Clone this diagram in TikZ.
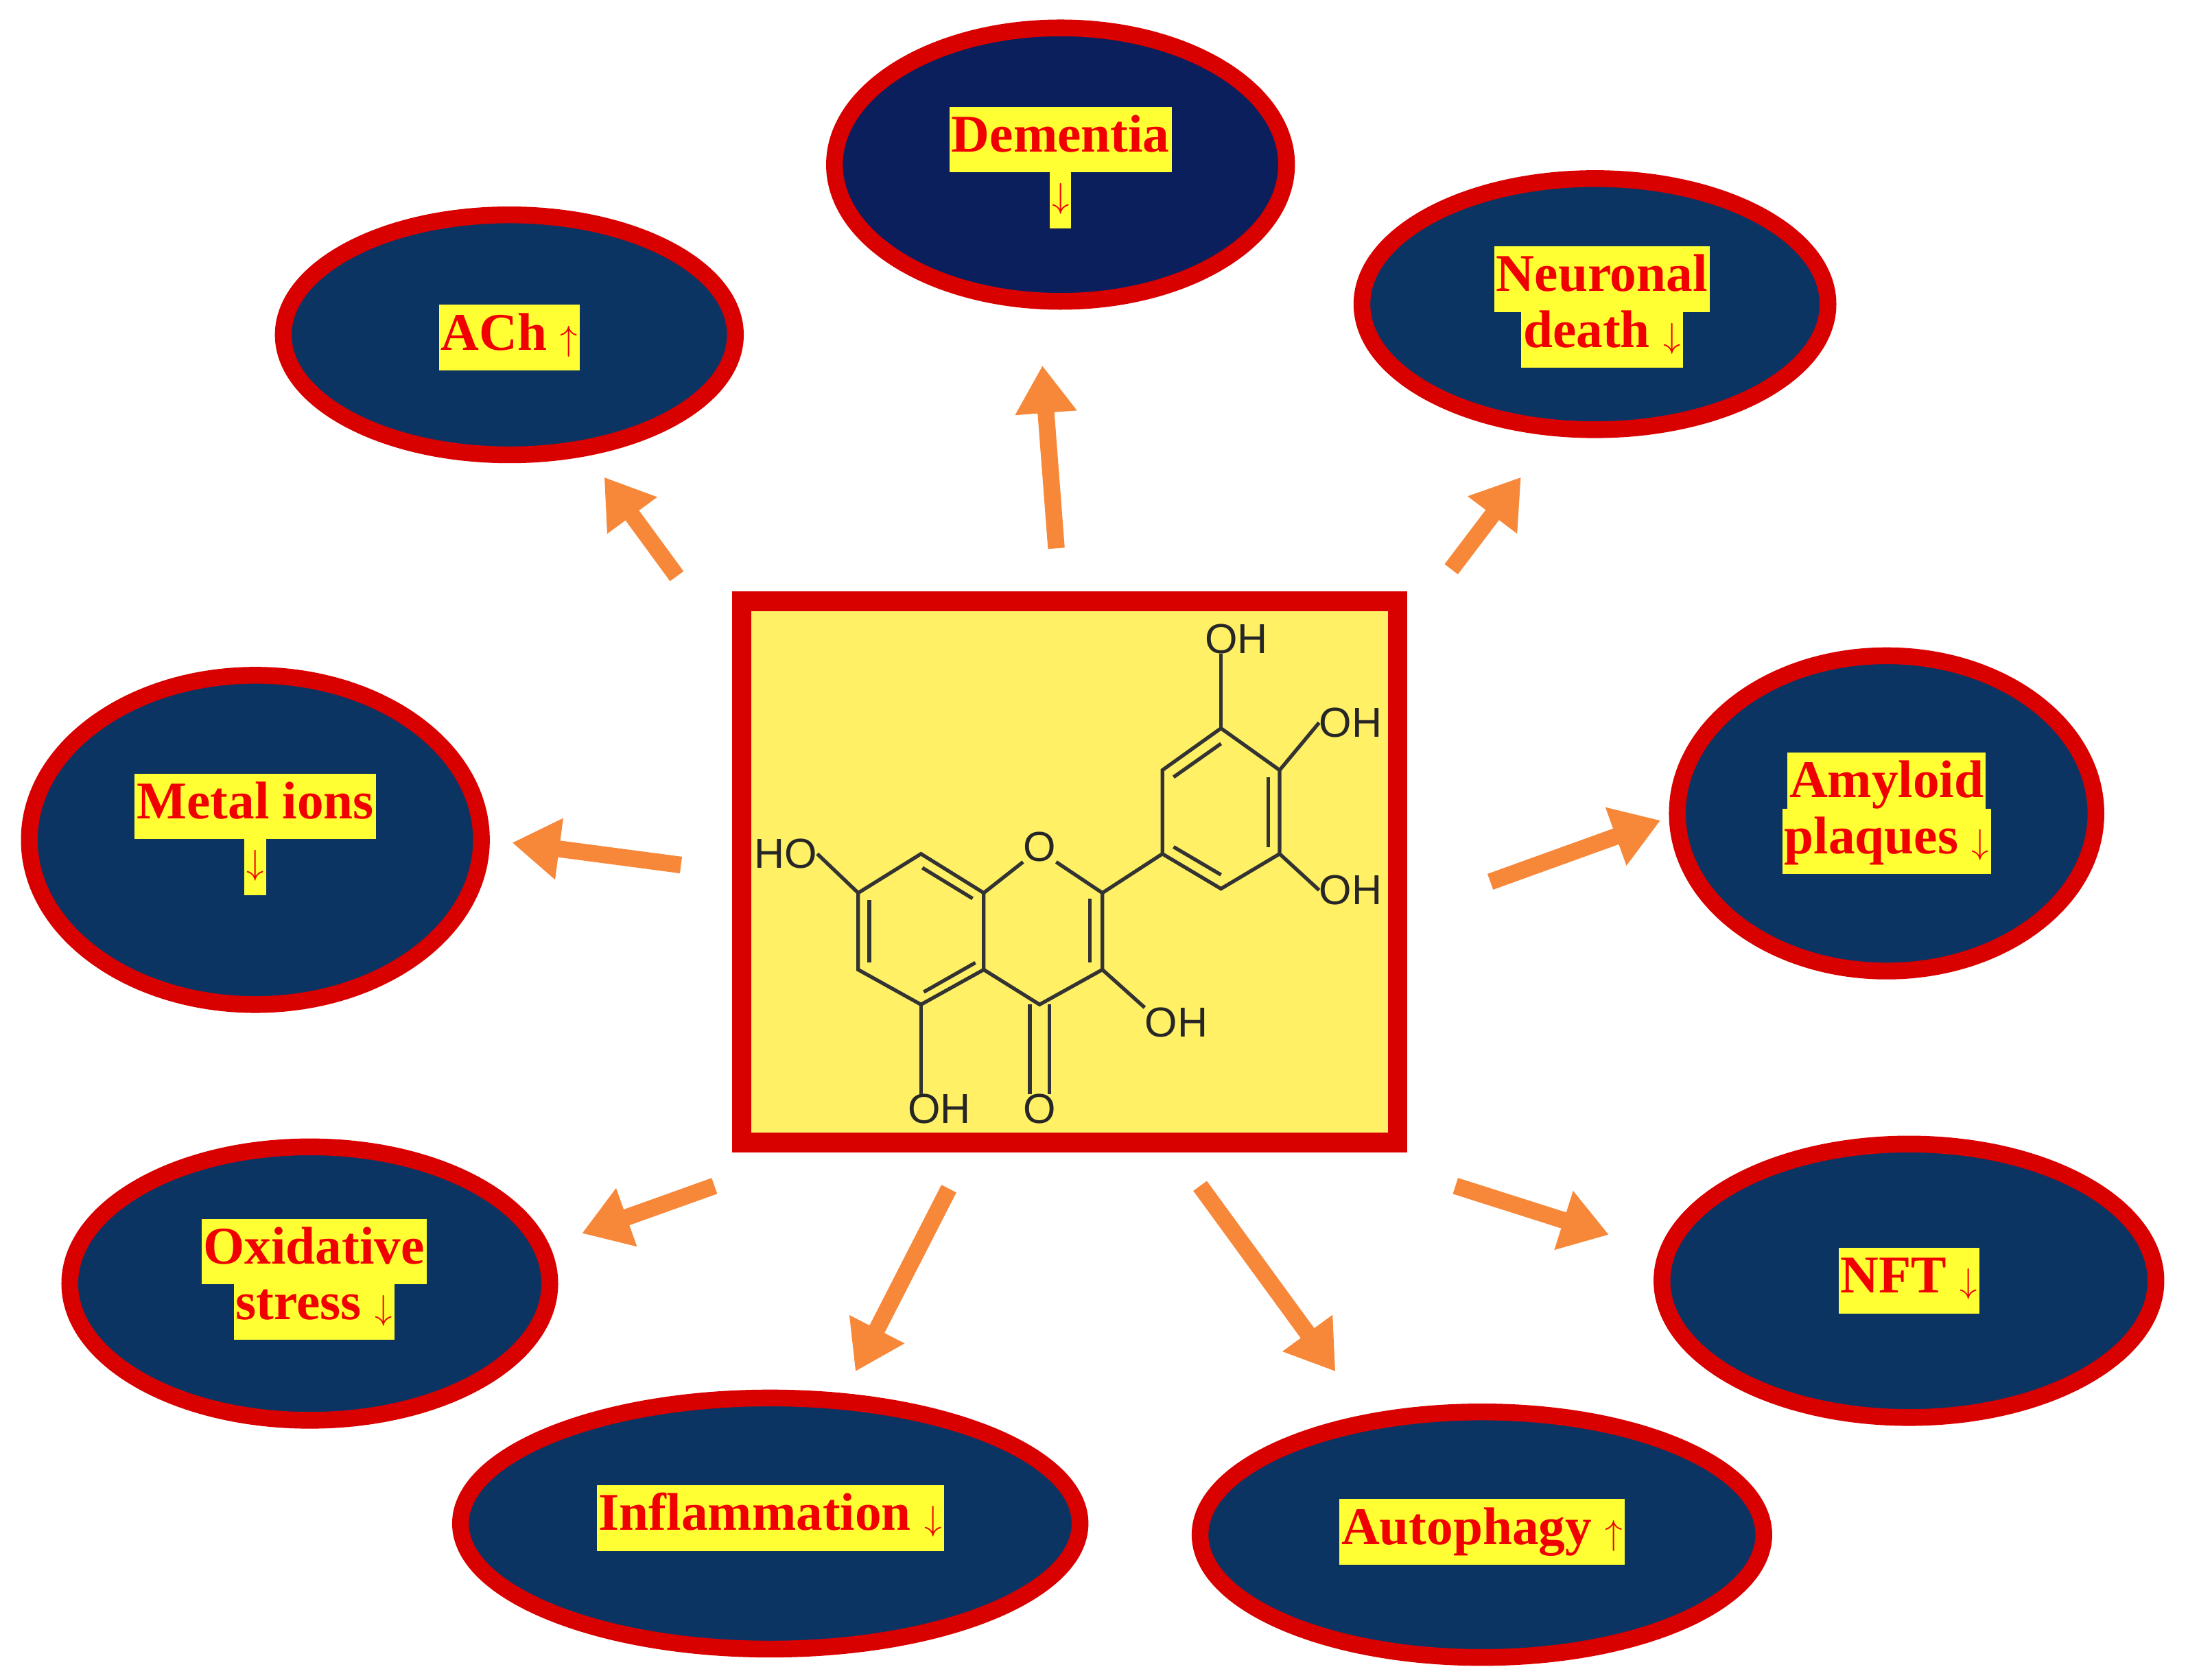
\documentclass[tikz,border=0pt]{standalone}
\usepackage{fontspec}
\setmainfont{Liberation Serif}
\setsansfont{Liberation Sans}
\usetikzlibrary{arrows.meta}
\definecolor{navy}{HTML}{0B3463}
\definecolor{navyd}{HTML}{0A1F5C}
\definecolor{rimred}{HTML}{D90000}
\definecolor{hly}{HTML}{FFFF33}
\definecolor{boxy}{HTML}{FFF066}
\definecolor{arr}{HTML}{F7883A}
\definecolor{txt}{HTML}{F00000}
\newcommand{\hlt}[1]{{\setlength{\fboxsep}{1.5pt}\colorbox{hly}{\strut #1}}}
\begin{document}
\begin{tikzpicture}[x=1pt,y=-1pt,
  lab/.style={align=center,text=txt,font=\fontsize{38}{44}\selectfont\bfseries},
  push/.style={draw=arr,line width=12pt,-{Triangle[length=34pt,width=42pt]}},
  bond/.style={draw=black!80,line width=2.6pt},
  atom/.style={font=\sffamily\fontsize{30}{32}\selectfont,text=black!85,inner sep=0pt}]
\useasboundingbox (0,0) rectangle (1568,1204);
\fill[white] (0,0) rectangle (1568,1204);
% ovals
\fill[navyd,draw=rimred,line width=12pt] (760,118) ellipse [x radius=162,y radius=98];
\fill[navy,draw=rimred,line width=12pt] (365,240) ellipse [x radius=162,y radius=86];
\fill[navy,draw=rimred,line width=12pt] (1143,218) ellipse [x radius=167,y radius=90];
\fill[navy,draw=rimred,line width=12pt] (183,602) ellipse [x radius=162,y radius=118];
\fill[navy,draw=rimred,line width=12pt] (1352,583) ellipse [x radius=150,y radius=113];
\fill[navy,draw=rimred,line width=12pt] (222,920) ellipse [x radius=172,y radius=98];
\fill[navy,draw=rimred,line width=12pt] (1368,918) ellipse [x radius=177,y radius=98];
\fill[navy,draw=rimred,line width=12pt] (552,1092) ellipse [x radius=222,y radius=90];
\fill[navy,draw=rimred,line width=12pt] (1062,1100) ellipse [x radius=202,y radius=88];
% labels
\node[lab] (tdem) at (760,120) {\hlt{Dementia}\\[-8pt]\hlt{$\downarrow$}};
\node[lab] (tach) at (365,242) {\hlt{ACh $\uparrow$}};
\node[lab] (tneu) at (1148,220) {\hlt{Neuronal}\\[-8pt]\hlt{death $\downarrow$}};
\node[lab] (tmet) at (183,598) {\hlt{Metal ions}\\[-8pt]\hlt{$\downarrow$}};
\node[lab] (tamy) at (1352,583) {\hlt{Amyloid}\\[-8pt]\hlt{plaques $\downarrow$}};
\node[lab] (toxi) at (225,917) {\hlt{Oxidative}\\[-8pt]\hlt{stress $\downarrow$}};
\node[lab] (tnft) at (1368,918) {\hlt{NFT $\downarrow$}};
\node[lab] (tinf) at (552,1088) {\hlt{Inflammation $\downarrow$}};
\node[lab] (taut) at (1062,1098) {\hlt{Autophagy $\uparrow$}};
% centre box
\node[draw=rimred,fill=boxy,line width=14pt,minimum width=470pt,minimum height=388pt] (box) at (766.5,625) {};
% arrows
\coordinate (a1) at (757,393); \coordinate (b1) at (747,262);
\coordinate (a2) at (485,413); \coordinate (b2) at (433,342);
\coordinate (a3) at (1040,408); \coordinate (b3) at (1090,342);
\coordinate (a4) at (488,620); \coordinate (b4) at (367,604);
\coordinate (a5) at (1068,632); \coordinate (b5) at (1190,588);
\coordinate (a6) at (512,850); \coordinate (b6) at (417,884);
\coordinate (a7) at (680,852); \coordinate (b7) at (613,983);
\coordinate (a8) at (860,850); \coordinate (b8) at (957,983);
\coordinate (a9) at (1043,850); \coordinate (b9) at (1153,885);
\foreach \i in {1,...,9} \draw[push] (a\i) -- (b\i);
% molecule
\coordinate (A1) at (660,612); \coordinate (A2) at (705,640); \coordinate (A3) at (705,695);
\coordinate (A4) at (660,720); \coordinate (A5) at (615,695); \coordinate (A6) at (615,640);
\coordinate (C2) at (790,640); \coordinate (C3) at (790,695); \coordinate (C4) at (745,720);
\coordinate (B1) at (833,612); \coordinate (B2) at (833,552); \coordinate (B3) at (875,522);
\coordinate (B4) at (917,552); \coordinate (B5) at (917,612); \coordinate (B6) at (875,637);
\node[atom] (O1) at (745,607) {O};
\node[atom] (O4) at (745,795) {O};
\node[atom] (OH5) at (673,795) {OH};
\node[atom] (OH3) at (843,733) {OH};
\node[atom] (OH7) at (563,612) {HO};
\node[atom] (OHa) at (886,458) {OH};
\node[atom] (OHb) at (968,518) {OH};
\node[atom] (OHc) at (968,638) {OH};
\draw[bond] (A1)--(A2)--(A3)--(A4)--(A5)--(A6)--cycle;
\draw[bond] (A2)--(O1.south west);
\draw[bond] (O1.south east)--(C2)--(C3)--(C4)--(A3);
\draw[bond] (C2)--(B1)--(B2)--(B3)--(B4)--(B5)--(B6)--(B1);
\draw[bond] (661,622)--(697,644); \draw[bond] (699,690)--(662,711); \draw[bond] (623,645)--(623,690);
\draw[bond] (781,644)--(781,690);
\draw[bond] (841,557)--(875,533); \draw[bond] (909,557)--(909,607); \draw[bond] (841,607)--(875,627);
\draw[bond] (738,720)--(O4.north -| 738,0); \draw[bond] (752,720)--(O4.north -| 752,0);
\draw[bond] (A4)--(OH5.north -| A4);
\draw[bond] (C3)--(OH3.north west);
\draw[bond] (A6)--(OH7.east);
\draw[bond] (B3)--(OHa.south -| B3);
\draw[bond] (B4)--(OHb.west);
\draw[bond] (B5)--(OHc.west);
\end{tikzpicture}
\end{document}
